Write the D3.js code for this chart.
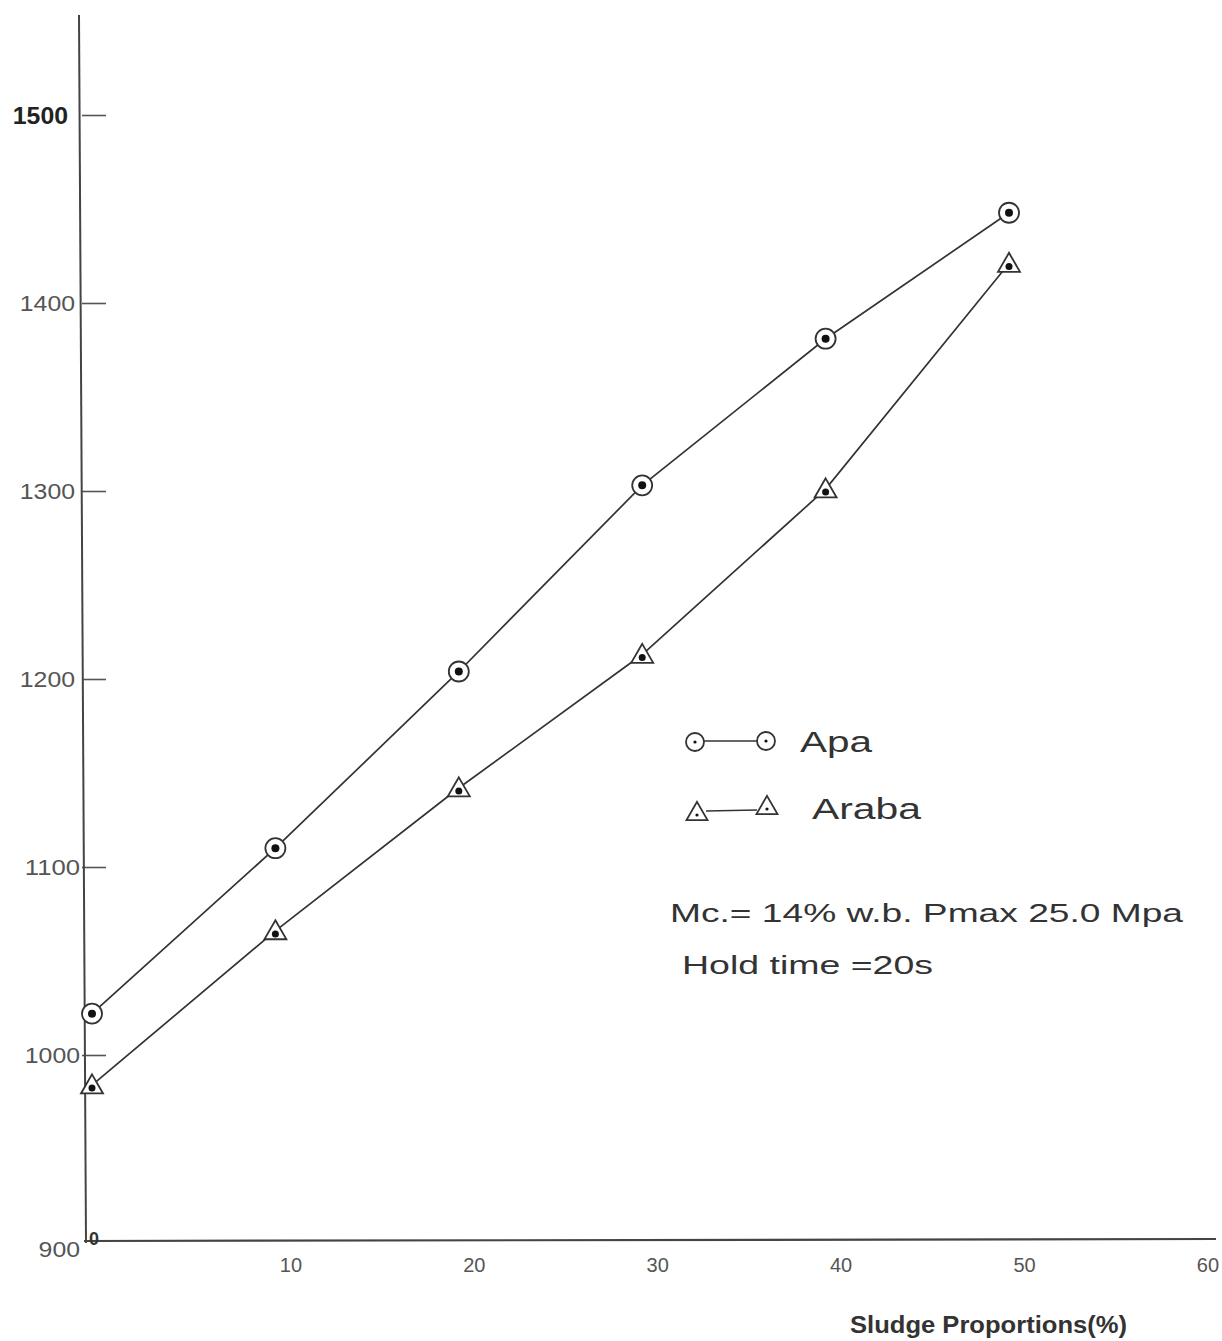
<!DOCTYPE html>
<html>
<head>
<meta charset="utf-8">
<script src="https://cdn.jsdelivr.net/npm/d3@7"></script>
<style>
  html, body { margin: 0; padding: 0; background: #ffffff; }
  svg { display: block; font-family: "Liberation Sans", Arial, sans-serif; }
</style>
</head>
<body>
<svg id="chart" width="1222" height="1341"></svg>
<script>
// ---- data ----
const sludge = [0, 10, 20, 30, 40, 50];
const apa    = [1022, 1110, 1204, 1303, 1381, 1448];
const araba  = [984, 1066, 1142, 1213, 1301, 1421];
const seriesNames = ["Apa", "Araba"];
const yTicks = [900, 1000, 1100, 1200, 1300, 1400, 1500];
const xTicks = [10, 20, 30, 40, 50, 60];
const xTitle = "Sludge Proportions(%)";
const noteLines = ["Mc.= 14% w.b. Pmax 25.0 Mpa", "Hold time =20s"];

const svg = d3.select("#chart");
const ink = "#333333";

const x = d3.scaleLinear().domain([0, 50]).range([92, 1009]);
const y = d3.scaleLinear().domain([900, 1500]).range([1243, 115]);
const axisX = 82;

// ---- y axis ----
const yAxis = d3.axisLeft(y).tickValues(yTicks).tickSizeInner(-24).tickSizeOuter(0).tickPadding(5)
  .tickFormat(d3.format("d"));
const gy = svg.append("g").attr("transform", `translate(${axisX},0)`).call(yAxis);
gy.select(".domain").remove();
gy.selectAll(".tick line").attr("stroke", "#555").attr("stroke-width", 1.6)
  .attr("display", d => d === 900 ? "none" : null);
gy.selectAll(".tick text")
  .attr("font-family", "Liberation Sans, Arial, sans-serif")
  .attr("font-size", d => d === 1500 ? 23 : 22)
  .attr("font-weight", d => d === 1500 ? "bold" : "normal")
  .attr("fill", d => d === 1500 ? "#222" : "#555")
  .attr("textLength", d => String(d).length * 13.8)
  .attr("lengthAdjust", "spacingAndGlyphs")
  .attr("dy", d => d === 900 ? "0.6em" : "0.36em")
  .attr("x", d => d === 1500 ? -14 : (d >= 1200 ? -7 : -2));
// axis line (extends above top tick)
svg.append("line")
  .attr("x1", axisX - 3).attr("y1", 15)
  .attr("x2", axisX + 4).attr("y2", y(900))
  .attr("stroke", "#444").attr("stroke-width", 2);

// ---- x axis ----
const xs = d3.scaleLinear().domain([0, 60]).range([x(0), x(60)]);
const xAxis = d3.axisBottom(xs).tickValues(xTicks).tickSize(0).tickPadding(17).tickFormat(d3.format("d"));
const gx = svg.append("g").attr("transform", `translate(0,${y(900) - 2})`).call(xAxis);
gx.select(".domain").remove();
gx.selectAll(".tick text")
  .attr("font-family", "Liberation Sans, Arial, sans-serif")
  .attr("font-size", 20).attr("fill", "#555")
  .attr("dx", 15);
svg.append("line")
  .attr("x1", axisX + 2).attr("y1", y(900) - 2)
  .attr("x2", 1216).attr("y2", y(900) - 4)
  .attr("stroke", "#444").attr("stroke-width", 2.2);

// origin "0"
svg.append("text").attr("x", 94).attr("y", 1245).attr("text-anchor", "middle")
  .attr("font-size", 18).attr("font-weight", "bold").attr("fill", "#333").text("0");

// x title
svg.append("text").attr("x", 850).attr("y", 1333)
  .attr("font-size", 23).attr("font-weight", "bold").attr("fill", "#333")
  .attr("textLength", 277).attr("lengthAdjust", "spacingAndGlyphs")
  .text(xTitle);

// ---- series ----
const line = d3.line().x(d => x(d[0])).y(d => y(d[1]));
const dataA = sludge.map((s, i) => [s, apa[i]]);
const dataB = sludge.map((s, i) => [s, araba[i]]);

svg.append("path").attr("d", line(dataA)).attr("fill", "none").attr("stroke", ink).attr("stroke-width", 1.7);
svg.append("path").attr("d", line(dataB)).attr("fill", "none").attr("stroke", ink).attr("stroke-width", 1.7);

const triPath = s => {
  const h = s * Math.sqrt(3) / 2;
  return `M0,${-h * 2 / 3} L${s / 2},${h / 3} L${-s / 2},${h / 3} Z`;
};

function circleMarker(g, cx, cy, r, dotR) {
  g.append("circle").attr("cx", cx).attr("cy", cy).attr("r", r)
    .attr("fill", "#fff").attr("stroke", ink).attr("stroke-width", 1.8);
  g.append("circle").attr("cx", cx).attr("cy", cy).attr("r", dotR).attr("fill", "#111");
}
function triMarker(g, cx, cy, s, dotR) {
  g.append("path").attr("d", triPath(s)).attr("transform", `translate(${cx},${cy})`)
    .attr("fill", "#fff").attr("stroke", ink).attr("stroke-width", 1.8);
  g.append("circle").attr("cx", cx).attr("cy", cy + 1).attr("r", dotR).attr("fill", "#111");
}

const gm = svg.append("g");
dataA.forEach(d => circleMarker(gm, x(d[0]), y(d[1]), 10, 4));
dataB.forEach(d => triMarker(gm, x(d[0]), y(d[1]) + 2, 22, 3.5));

// ---- legend ----
const lg = svg.append("g");
lg.append("line").attr("x1", 704).attr("y1", 741).attr("x2", 757).attr("y2", 741)
  .attr("stroke", ink).attr("stroke-width", 1.6);
circleMarker(lg, 695, 742, 9, 1.6);
circleMarker(lg, 766, 741, 9, 1.6);
lg.append("text").attr("x", 800).attr("y", 752).attr("font-size", 30).attr("fill", "#333")
  .attr("textLength", 72).attr("lengthAdjust", "spacingAndGlyphs").text(seriesNames[0]);

lg.append("line").attr("x1", 706).attr("y1", 811).attr("x2", 757).attr("y2", 810)
  .attr("stroke", ink).attr("stroke-width", 1.6);
triMarker(lg, 697, 814, 21, 1.6);
triMarker(lg, 767, 808, 21, 1.6);
lg.append("text").attr("x", 812).attr("y", 819).attr("font-size", 30).attr("fill", "#333")
  .attr("textLength", 109).attr("lengthAdjust", "spacingAndGlyphs").text(seriesNames[1]);

// ---- notes ----
svg.append("text").attr("x", 670).attr("y", 922).attr("font-size", 26).attr("fill", "#333")
  .attr("textLength", 513).attr("lengthAdjust", "spacingAndGlyphs").text(noteLines[0]);
svg.append("text").attr("x", 682).attr("y", 974).attr("font-size", 26).attr("fill", "#333")
  .attr("textLength", 251).attr("lengthAdjust", "spacingAndGlyphs").text(noteLines[1]);
</script>
</body>
</html>
